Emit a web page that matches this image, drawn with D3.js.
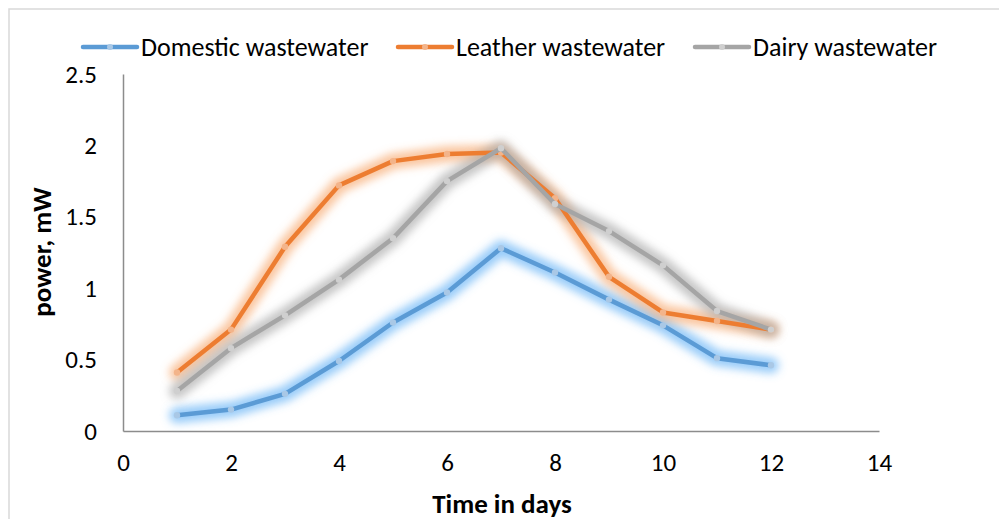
<!DOCTYPE html>
<html>
<head>
<meta charset="utf-8">
<script src="https://cdn.jsdelivr.net/npm/d3@7"></script>
<style>
  body { margin: 0; background: #fff; }
  svg text { font-family: Carlito, Calibri, Lato, sans-serif; fill: #000; }
</style>
</head>
<body>
<svg id="chart" width="999" height="519"></svg>
<script>
var days = [1, 2, 3, 4, 5, 6, 7, 8, 9, 10, 11, 12];
var domestic = [0.11, 0.15, 0.26, 0.49, 0.76, 0.97, 1.28, 1.11, 0.92, 0.74, 0.51, 0.46];
var leather = [0.41, 0.71, 1.29, 1.72, 1.89, 1.94, 1.95, 1.63, 1.08, 0.83, 0.77, 0.71];
var dairy = [0.28, 0.58, 0.81, 1.06, 1.35, 1.75, 1.98, 1.59, 1.40, 1.16, 0.84, 0.71];
var xTicks = [0, 2, 4, 6, 8, 10, 12, 14];
var yTicks = [0, 0.5, 1, 1.5, 2, 2.5];

var series = [
  {name: 'Domestic wastewater', values: domestic, color: '#5b9bd5', marker: '#a9c8e6', glow: '#55aaf5'},
  {name: 'Leather wastewater', values: leather, color: '#ed7d31', marker: '#f3b48a', glow: '#f7a060'},
  {name: 'Dairy wastewater', values: dairy, color: '#a5a5a5', marker: '#cfcfcf', glow: '#a0a0a0'}
];

var svg = d3.select('#chart');

// chart frame
svg.append('rect')
  .attr('x', 9).attr('y', 9)
  .attr('width', 1000).attr('height', 530)
  .attr('fill', 'none')
  .attr('stroke', '#d9d9d9')
  .attr('stroke-width', 1.5);

var x = d3.scaleLinear().domain([0, 14]).range([123, 879]);
var y = d3.scaleLinear().domain([0, 2.5]).range([431, 74]);

var defs = svg.append('defs');
defs.append('filter')
  .attr('id', 'glow')
  .attr('x', '-20%').attr('y', '-20%')
  .attr('width', '140%').attr('height', '140%')
  .append('feGaussianBlur')
  .attr('stdDeviation', 4.5);

// axes
var yAxis = d3.axisLeft(y).tickValues(yTicks).tickSize(0).tickPadding(26)
  .tickFormat(function(d) { return d; });
var xAxis = d3.axisBottom(x).tickValues(xTicks).tickSize(0).tickPadding(22);

var gy = svg.append('g').attr('transform', 'translate(123,0)').call(yAxis);
var gx = svg.append('g').attr('transform', 'translate(0,431)').call(xAxis);
[gy, gx].forEach(function(g) {
  g.select('.domain').attr('stroke', '#8c8c8c').attr('stroke-width', 1.5);
  g.selectAll('text').style('font-size', '25px');
});

var line = d3.line()
  .x(function(d, i) { return x(days[i]); })
  .y(function(d) { return y(d); });

// glow layers
series.forEach(function(s) {
  svg.append('path')
    .datum(s.values)
    .attr('d', line)
    .attr('fill', 'none')
    .attr('stroke', s.glow)
    .attr('stroke-opacity', 0.6)
    .attr('stroke-width', 16)
    .attr('stroke-linejoin', 'round')
    .attr('stroke-linecap', 'round')
    .attr('filter', 'url(#glow)');
});

series.forEach(function(s) {
  svg.append('path')
    .datum(s.values)
    .attr('d', line)
    .attr('fill', 'none')
    .attr('stroke', s.color)
    .attr('stroke-width', 4.5)
    .attr('stroke-linejoin', 'round');

  svg.append('g').selectAll('circle')
    .data(s.values)
    .enter()
      .append('circle')
      .attr('cx', function(d, i) { return x(days[i]); })
      .attr('cy', function(d) { return y(d); })
      .attr('r', 3.2)
      .attr('fill', s.marker);
});

// legend
var legendX = [83, 398, 695];
var legend = svg.append('g');
series.forEach(function(s, i) {
  var g = legend.append('g').attr('transform', 'translate(' + legendX[i] + ',47)');
  g.append('line')
    .attr('x1', 0).attr('x2', 54)
    .attr('stroke', s.color)
    .attr('stroke-width', 4.5)
    .attr('stroke-linecap', 'round');
  g.append('circle').attr('cx', 27).attr('r', 3).attr('fill', s.marker);
  g.append('text')
    .attr('x', 58).attr('y', 9)
    .style('font-size', '26px')
    .text(s.name);
});

// axis titles
svg.append('text')
  .attr('x', 502).attr('y', 513)
  .attr('text-anchor', 'middle')
  .style('font-size', '27px')
  .style('font-weight', 'bold')
  .text('Time in days');

svg.append('text')
  .attr('transform', 'translate(51,252) rotate(-90)')
  .attr('text-anchor', 'middle')
  .style('font-size', '27px')
  .style('font-weight', 'bold')
  .text('power, mW');
</script>
</body>
</html>
